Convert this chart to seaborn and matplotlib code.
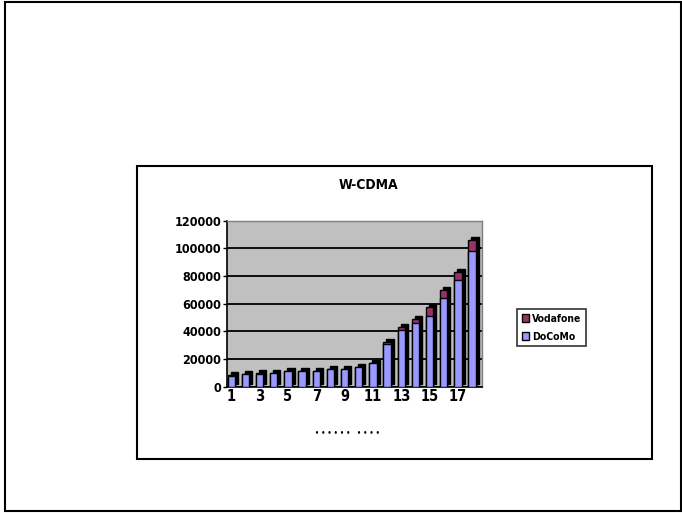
import matplotlib
matplotlib.use("Agg")
import matplotlib.pyplot as plt
from matplotlib.patches import Rectangle, Patch
from matplotlib.transforms import offset_copy
import seaborn as sns
import pandas as pd

# Subscriber counts per period
periods = [str(i) for i in range(1, 19)]
docomo = [8000, 9000, 9500, 10000, 11000, 11000, 11000, 12500, 12500, 14000,
          17000, 31000, 41000, 46000, 51000, 64000, 77000, 98000]
vodafone = [200, 200, 200, 200, 200, 200, 200, 200, 200, 200,
            300, 1500, 1800, 3000, 6500, 6000, 6000, 8000]
tick_labels = ["1", "3", "5", "7", "9", "11", "13", "15", "17"]
y_ticks = [0, 20000, 40000, 60000, 80000, 100000, 120000]

title = "W-CDMA"
x_label = "• • • • • •   • • • •"

df = pd.DataFrame({"period": periods, "DoCoMo": docomo, "Vodafone": vodafone})
df["total"] = df["DoCoMo"] + df["Vodafone"]

sns.set_style("white")
plt.rcParams["font.family"] = ["DejaVu Sans"]
plt.rcParams["font.stretch"] = "condensed"
plt.rcParams["font.weight"] = "bold"
plt.rcParams["text.color"] = "black"
plt.rcParams["xtick.color"] = "black"
plt.rcParams["ytick.color"] = "black"

fig = plt.figure(figsize=(6.82, 5.13), dpi=100)
W, H = 682, 513

# outer frame and chart frame
fig.patches.append(Rectangle((5 / W, 1 - 511 / H), 676 / W, 509 / H,
                             transform=fig.transFigure, fill=False,
                             edgecolor="black", linewidth=1.5))
fig.patches.append(Rectangle((137 / W, 1 - 459 / H), 515 / W, 293 / H,
                             transform=fig.transFigure, fill=False,
                             edgecolor="black", linewidth=1.5))

ax = fig.add_axes([227 / W, 1 - 386.7 / H, 255 / W, 166.1 / H])
ax.set_facecolor("#c0c0c0")

blue = "#9999ff"
plum = "#993366"
bw = 0.52

# dark depth faces of the columns
n0 = len(ax.patches)
sns.barplot(data=df, x="period", y="total", color="black", width=bw,
            saturation=1, edgecolor="black", linewidth=1, ax=ax, zorder=2)
shift = offset_copy(ax.transData, fig=fig, x=3, y=3, units="dots")
for p in ax.patches[n0:]:
    p.set_transform(shift)

# front faces: total in Vodafone colour, DoCoMo drawn over the lower part
sns.barplot(data=df, x="period", y="total", color=plum, width=bw,
            saturation=1, edgecolor="black", linewidth=1, ax=ax, zorder=3)
sns.barplot(data=df, x="period", y="DoCoMo", color=blue, width=bw,
            saturation=1, edgecolor="black", linewidth=1, ax=ax, zorder=4)

ax.set_ylim(0, 120000)
ax.set_xlim(-0.3, 17.7)
ax.set_yticks(y_ticks)
ax.set_yticklabels([str(v) for v in y_ticks], fontsize=9, fontweight="bold")
ax.set_xticks(range(0, 18, 2))
ax.set_xticklabels(tick_labels, fontsize=10.5, fontweight="bold")
ax.grid(axis="y", color="black", linewidth=1.3, zorder=1)
ax.set_axisbelow(True)
ax.tick_params(axis="y", length=3, width=1, direction="out", pad=1, left=True)
ax.tick_params(axis="x", length=0, pad=2)
for side in ["top", "right"]:
    ax.spines[side].set_color("#808080")
    ax.spines[side].set_linewidth(1)
for side in ["left", "bottom"]:
    ax.spines[side].set_color("black")
    ax.spines[side].set_linewidth(1.2)
ax.set_xlabel("")
ax.set_ylabel("")

fig.text(368 / W, 1 - 185 / H, title, ha="center", va="center",
         fontsize=10, fontweight="bold")
fig.text(347 / W, 1 - 433 / H, x_label, ha="center", va="center",
         fontsize=5, fontweight="bold")

handles = [Patch(facecolor=plum, edgecolor="black", label="Vodafone"),
           Patch(facecolor=blue, edgecolor="black", label="DoCoMo")]
leg = fig.legend(handles=handles, loc="upper left",
                 bbox_to_anchor=(517 / W, 1 - 309 / H),
                 fontsize=7.5, frameon=True, fancybox=False,
                 handlelength=0.7, handleheight=0.7, handletextpad=0.3,
                 borderpad=0.45, labelspacing=0.75, borderaxespad=0)
leg.get_frame().set_edgecolor("black")
leg.get_frame().set_linewidth(1.2)

fig.savefig("out.png", dpi=100)
